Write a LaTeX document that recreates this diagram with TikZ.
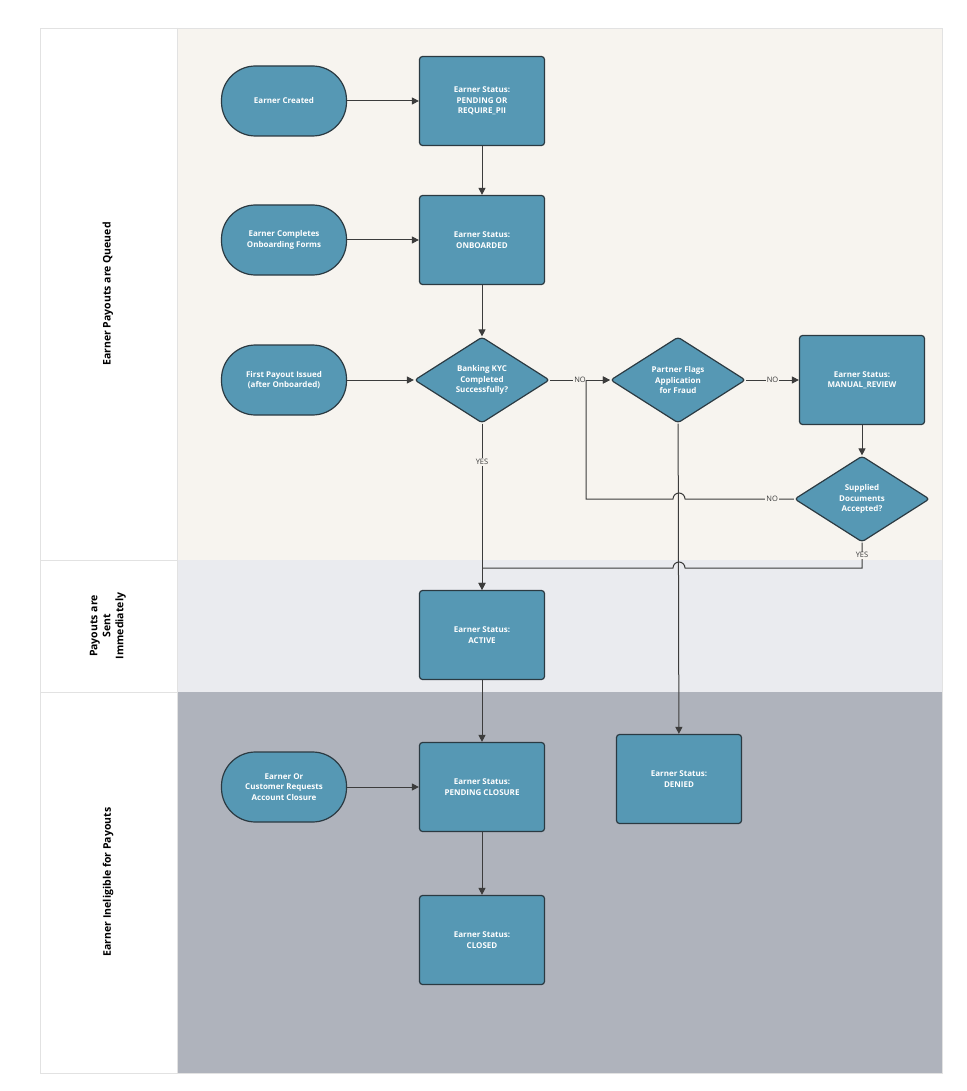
\documentclass[tikz,border=0pt]{standalone}
\usepackage{fontspec}
\setmainfont{Open Sans}
\usetikzlibrary{shapes.geometric,arrows.meta}
\definecolor{nodefill}{HTML}{5698B4}
\definecolor{nodeline}{HTML}{2B3A42}
\definecolor{laneA}{HTML}{F7F4EF}
\definecolor{laneB}{HTML}{EAEBEF}
\definecolor{laneC}{HTML}{AFB3BC}
\definecolor{frame}{HTML}{E2E2E2}
\definecolor{conn}{HTML}{3C3C3C}
\begin{document}
\begin{tikzpicture}[x=1pt,y=-1pt,
 base/.style={draw=nodeline,line width=1.2pt,fill=nodefill,text=white,font=\fontsize{8}{10.5}\selectfont\bfseries,align=center},
 rbox/.style={base,rectangle,rounded corners=3pt,minimum width=125pt,minimum height=89pt},
 pill/.style={base,rectangle,rounded corners=34pt,minimum width=125pt,minimum height=70pt},
 dia/.style={base,diamond,aspect=1.55,inner sep=0pt,minimum width=135pt,minimum height=86pt,rounded corners=3pt},
 arr/.style={draw=conn,line width=1pt,-{Triangle[length=7pt,width=7pt]}},
 ln/.style={draw=conn,line width=1pt},
 lbl/.style={font=\fontsize{7.5}{9}\selectfont,text=conn,inner sep=1pt},
 lane/.style={font=\fontsize{10.5}{13}\selectfont\bfseries,text=black,align=center,rotate=90}]
\useasboundingbox (0,0) rectangle (966,1091);
\fill[white] (0,0) rectangle (966,1091);
% lanes
\fill[laneA] (177,28) rectangle (942,560);
\fill[laneB] (177,560) rectangle (942,692);
\fill[laneC] (177,692) rectangle (942,1073);
\draw[frame,line width=0.8pt] (40,28) rectangle (942,1073);
\draw[frame,line width=0.8pt] (177,28) -- (177,1073) (40,560) -- (177,560) (40,692) -- (177,692);
\node[lane] (l1) at (108,294) {Earner Payouts are Queued};
\node[lane] (l2) at (108,626) {Payouts are\\Sent\\Immediately};
\node[lane] (l3) at (108,882) {Earner Ineligible for Payouts};
% nodes
\node[pill] (created) at (284,101) {Earner Created};
\node[rbox] (pending) at (482,101) {Earner Status:\\PENDING OR\\REQUIRE\_PII};
\node[pill] (forms) at (284,240) {Earner Completes\\Onboarding Forms};
\node[rbox] (onb) at (482,240) {Earner Status:\\ONBOARDED};
\node[pill] (first) at (284,380) {First Payout Issued\\(after Onboarded)};
\node[dia] (kyc) at (482,380) {Banking KYC\\Completed\\Successfully?};
\node[dia] (fraud) at (678,380) {Partner Flags\\Application\\for Fraud};
\node[rbox] (manual) at (862,380) {Earner Status:\\MANUAL\_REVIEW};
\node[dia] (docs) at (862,499) {Supplied\\Documents\\Accepted?};
\node[rbox] (active) at (482,635) {Earner Status:\\ACTIVE};
\node[pill] (req) at (284,787) {Earner Or\\Customer Requests\\Account Closure};
\node[rbox] (pclose) at (482,787) {Earner Status:\\PENDING CLOSURE};
\node[rbox] (denied) at (679,779) {Earner Status:\\DENIED};
\node[rbox] (closed) at (482,940) {Earner Status:\\CLOSED};
% connectors
\draw[arr] (created) -- (pending);
\draw[arr] (pending) -- (onb);
\draw[arr] (forms) -- (onb);
\draw[arr] (onb) -- (kyc);
\draw[arr] (first) -- (kyc);
\draw[arr] (kyc) -- node[lbl,fill=laneA]{NO} (fraud);
\draw[arr] (fraud) -- node[lbl,fill=laneA]{NO} (manual);
\draw[arr] (manual) -- (docs);
\draw[arr] (kyc) -- node[lbl,fill=laneA,pos=0.23]{YES} (active);
\draw[arr] (fraud) -- (denied);
\draw[arr] (active) -- (pclose);
\draw[arr] (req) -- (pclose);
\draw[arr] (pclose) -- (closed);
% NO loop from docs back to fraud, with hop
\coordinate (c1) at (586,499);
\coordinate (c2) at (586,380);
\draw[ln] (docs.west) -- node[lbl,fill=laneA,pos=0.2]{NO} (685,499) arc (0:-180:6) -- (c1) -- (c2);
\draw[arr] (c2) -- (fraud.west);
% YES from docs to active with hop
\coordinate (c3) at (862,568);
\coordinate (c4) at (482,568);
\draw[ln] (docs.south) -- node[lbl,fill=laneA,pos=0.5]{YES} (c3) -- (685,568) arc (0:-180:6) -- (c4);
\draw[arr] (c4) -- (active.north);
\end{tikzpicture}
\end{document}
